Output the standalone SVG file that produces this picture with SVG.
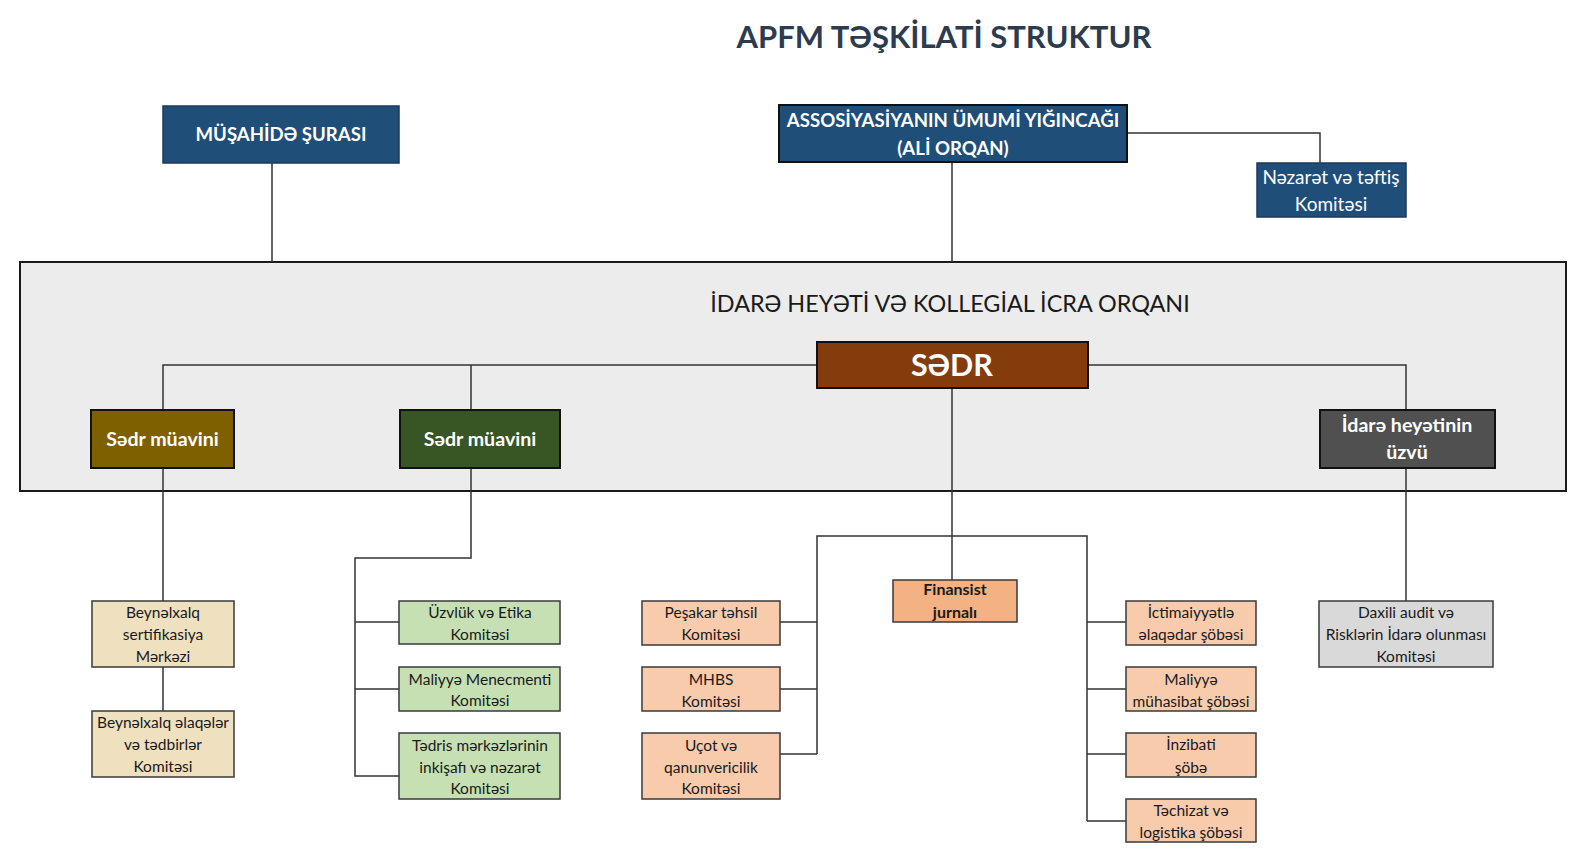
<svg xmlns="http://www.w3.org/2000/svg" width="1585" height="855" viewBox="0 0 1585 855">
<style>
text{font-family:"Lato","Open Sans","Noto Sans",sans-serif;text-anchor:middle}
.title{font-size:31px;font-weight:bold;fill:#2d3b4e}
.ftitle{font-size:23.4px;fill:#1a1a1a}
.wb{fill:#ffffff;font-weight:bold;font-size:18.6px}
.wl{fill:#ffffff;font-weight:bold;font-size:19.6px}
.wr{fill:#ffffff;font-size:19px}
.sm{fill:#1a1a1a;font-size:15.5px}
.smb{fill:#1a1a1a;font-size:16px;font-weight:bold}
.blue{fill:#1f4e79;stroke:#1b3a5c;stroke-width:1.5}
.dark{stroke:#111;stroke-width:2}
.lt{stroke:#3a3a3a;stroke-width:1.5}
.conn{fill:none;stroke:#333;stroke-width:1.5}
</style>
<rect width="1585" height="855" fill="#ffffff"/>
<text class="title" x="944" y="48">APFM TƏŞKİLATİ STRUKTUR</text>

<g id="frame">
<rect x="20" y="262" width="1546" height="229" fill="#ececec" stroke="#1a1a1a" stroke-width="2"/>
<text class="ftitle" x="950" y="312">İDARƏ HEYƏTİ VƏ KOLLEGİAL İCRA ORQANI</text>
</g>

<g id="connectors">
<path class="conn" d="M272 163V262"/>
<path class="conn" d="M952 162V262"/>
<path class="conn" d="M1127 133H1320V163"/>
<path class="conn" d="M163 410V365H817M1088 365H1406V410"/>
<path class="conn" d="M471 365V410"/>
<path class="conn" d="M952 388V580"/>
<path class="conn" d="M817 754V536H1087V821"/>
<path class="conn" d="M780 622H817M780 689H817M780 754H817"/>
<path class="conn" d="M1087 622H1126M1087 689H1126M1087 754H1126M1087 821H1126"/>
<path class="conn" d="M163 468V601M163 667V711"/>
<path class="conn" d="M471 468V558H355V776H399M355 622H399M355 689H399"/>
<path class="conn" d="M1406 468V601"/>
</g>

<g id="musahide">
<rect class="blue" x="163" y="106" width="236" height="57"/>
<text class="wb" x="281" y="140.5">MÜŞAHİDƏ ŞURASI</text>
</g>
<g id="assosiasiya">
<rect x="779" y="105" width="348" height="57" fill="#1f4e79" class="dark"/>
<text class="wb" x="953" y="127">ASSOSİYASİYANIN ÜMUMİ YIĞINCAĞI</text>
<text class="wb" x="953" y="155">(ALİ ORQAN)</text>
</g>
<g id="nezaret">
<rect class="blue" x="1257" y="163" width="149" height="54"/>
<text class="wr" x="1331" y="183.5">Nəzarət və təftiş</text>
<text class="wr" x="1331" y="210.5">Komitəsi</text>
</g>
<g id="sedr">
<rect x="817" y="342" width="271" height="46" fill="#843c0c" class="dark"/>
<text x="952" y="376" style="fill:#fff;font-weight:bold;font-size:30.5px">SƏDR</text>
</g>
<g id="muavin1">
<rect x="91" y="410" width="143" height="58" fill="#7f6000" class="dark"/>
<text class="wl" x="162.5" y="446">Sədr müavini</text>
</g>
<g id="muavin2">
<rect x="400" y="410" width="160" height="58" fill="#375623" class="dark"/>
<text class="wl" x="480" y="446">Sədr müavini</text>
</g>
<g id="uzv">
<rect x="1320" y="410" width="175" height="58" fill="#505050" class="dark"/>
<text class="wl" x="1407" y="432">İdarə heyətinin</text>
<text class="wl" x="1407" y="459">üzvü</text>
</g>

<g id="beyn-sert">
<rect class="lt" x="92" y="601" width="142" height="66" fill="#efe0bf"/>
<text class="sm" x="163" y="617.5">Beynəlxalq</text>
<text class="sm" x="163" y="639.5">sertifikasiya</text>
<text class="sm" x="163" y="661.5">Mərkəzi</text>
</g>
<g id="beyn-elaqe">
<rect class="lt" x="92" y="711" width="142" height="66" fill="#efe0bf"/>
<text class="sm" x="163" y="727.5">Beynəlxalq əlaqələr</text>
<text class="sm" x="163" y="749.5">və tədbirlər</text>
<text class="sm" x="163" y="771.5">Komitəsi</text>
</g>

<g id="uzvluk">
<rect class="lt" x="399" y="601" width="161" height="43" fill="#c6e0b4"/>
<text class="sm" x="480" y="618">Üzvlük və Etika</text>
<text class="sm" x="480" y="639.5">Komitəsi</text>
</g>
<g id="maliyye-men">
<rect class="lt" x="399" y="667" width="161" height="44" fill="#c6e0b4"/>
<text class="sm" x="480" y="684.5">Maliyyə Menecmenti</text>
<text class="sm" x="480" y="706">Komitəsi</text>
</g>
<g id="tedris">
<rect class="lt" x="399" y="733" width="161" height="66" fill="#c6e0b4"/>
<text class="sm" x="480" y="750.5">Tədris mərkəzlərinin</text>
<text class="sm" x="480" y="772.5">inkişafı və nəzarət</text>
<text class="sm" x="480" y="793.5">Komitəsi</text>
</g>

<g id="pesekar">
<rect class="lt" x="642" y="601" width="138" height="44" fill="#f8cbad"/>
<text class="sm" x="711" y="617.5">Peşakar təhsil</text>
<text class="sm" x="711" y="639.5">Komitəsi</text>
</g>
<g id="mhbs">
<rect class="lt" x="642" y="667" width="138" height="44" fill="#f8cbad"/>
<text class="sm" x="711" y="684.5">MHBS</text>
<text class="sm" x="711" y="706.5">Komitəsi</text>
</g>
<g id="ucot">
<rect class="lt" x="642" y="733" width="138" height="66" fill="#f8cbad"/>
<text class="sm" x="711" y="750.5">Uçot və</text>
<text class="sm" x="711" y="772.5">qanunvericilik</text>
<text class="sm" x="711" y="793.5">Komitəsi</text>
</g>
<g id="finansist">
<rect class="lt" x="893" y="580" width="124" height="42" fill="#f4b183"/>
<text class="smb" x="955" y="594.5">Finansist</text>
<text class="smb" x="955" y="617.5">jurnalı</text>
</g>

<g id="ictimai">
<rect class="lt" x="1126" y="601" width="130" height="44" fill="#f8cbad"/>
<text class="sm" x="1191" y="617.5">İctimaiyyətlə</text>
<text class="sm" x="1191" y="639.5">əlaqədar şöbəsi</text>
</g>
<g id="maliyye-muh">
<rect class="lt" x="1126" y="667" width="130" height="44" fill="#f8cbad"/>
<text class="sm" x="1191" y="684.5">Maliyyə</text>
<text class="sm" x="1191" y="706.5">mühasibat şöbəsi</text>
</g>
<g id="inzibati">
<rect class="lt" x="1126" y="733" width="130" height="44" fill="#f8cbad"/>
<text class="sm" x="1191" y="749.5">İnzibati</text>
<text class="sm" x="1191" y="772.5">şöbə</text>
</g>
<g id="techizat">
<rect class="lt" x="1126" y="799" width="130" height="43" fill="#f8cbad"/>
<text class="sm" x="1191" y="815.5">Təchizat və</text>
<text class="sm" x="1191" y="837.5">logistika şöbəsi</text>
</g>

<g id="daxili">
<rect class="lt" x="1319" y="601" width="174" height="66" fill="#d9d9d9"/>
<text class="sm" x="1406" y="617.5">Daxili audit və</text>
<text class="sm" x="1406" y="639.5">Risklərin İdarə olunması</text>
<text class="sm" x="1406" y="662">Komitəsi</text>
</g>
</svg>
